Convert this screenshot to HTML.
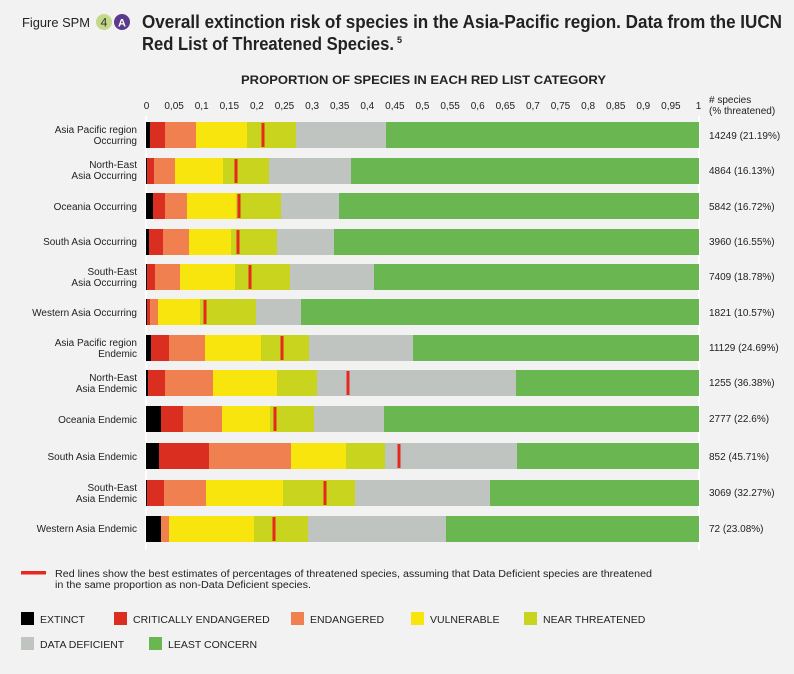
<!DOCTYPE html>
<html><head><meta charset="utf-8"><style>
body{margin:0;background:#f2f2f2;}
svg{display:block;font-family:"Liberation Sans",sans-serif;}
</style></head><body>
<svg width="794" height="674" viewBox="0 0 794 674" xmlns="http://www.w3.org/2000/svg">
<rect width="794" height="674" fill="#f2f2f2"/>
<text x="22" y="27" font-size="13" fill="#222" textLength="68" lengthAdjust="spacingAndGlyphs">Figure SPM</text>
<circle cx="104" cy="22" r="8" fill="#c5d98a"/><text x="104" y="26.5" font-size="12" text-anchor="middle" fill="#333">4</text>
<circle cx="122" cy="22" r="8" fill="#5b3a8c"/><text x="122" y="26.5" font-size="11" text-anchor="middle" fill="#fff" font-weight="bold">A</text>
<text x="142" y="28" font-size="18" font-weight="bold" fill="#222" textLength="640" lengthAdjust="spacingAndGlyphs">Overall extinction risk of species in the Asia-Pacific region. Data from the IUCN</text>
<text x="142" y="50" font-size="18" font-weight="bold" fill="#222" textLength="252" lengthAdjust="spacingAndGlyphs">Red List of Threatened Species.</text>
<text x="397" y="43" font-size="9" font-weight="bold" fill="#222">5</text>
<text x="241" y="84" font-size="12" font-weight="bold" fill="#222" textLength="365" lengthAdjust="spacingAndGlyphs">PROPORTION OF SPECIES IN EACH RED LIST CATEGORY</text>
<g font-size="10" fill="#222" text-anchor="middle" id="ticks"></g>
<text x="709" y="103" font-size="10" fill="#222"># species</text>
<text x="709" y="114" font-size="10" fill="#222">(% threatened)</text>
<line x1="146" y1="116" x2="146" y2="550" stroke="#fff" stroke-width="2"/>
<line x1="699" y1="116" x2="699" y2="550" stroke="#fff" stroke-width="2"/>
<g id="bars"></g>
<g font-size="10" fill="#222" text-anchor="end">
<text x="137" y="133">Asia Pacific region</text><text x="137" y="144">Occurring</text>
<text x="137" y="168">North-East</text><text x="137" y="179">Asia Occurring</text>
<text x="137" y="210">Oceania Occurring</text>
<text x="137" y="245">South Asia Occurring</text>
<text x="137" y="275">South-East</text><text x="137" y="286">Asia Occurring</text>
<text x="137" y="316">Western Asia Occurring</text>
<text x="137" y="346">Asia Pacific region</text><text x="137" y="357">Endemic</text>
<text x="137" y="381">North-East</text><text x="137" y="392">Asia Endemic</text>
<text x="137" y="423">Oceania Endemic</text>
<text x="137" y="460">South Asia Endemic</text>
<text x="137" y="491">South-East</text><text x="137" y="502">Asia Endemic</text>
<text x="137" y="532">Western Asia Endemic</text>
</g>
<g font-size="10" fill="#222">
<text x="709" y="139">14249 (21.19%)</text>
<text x="709" y="174">4864 (16.13%)</text>
<text x="709" y="210">5842 (16.72%)</text>
<text x="709" y="245">3960 (16.55%)</text>
<text x="709" y="280">7409 (18.78%)</text>
<text x="709" y="316">1821 (10.57%)</text>
<text x="709" y="351">11129 (24.69%)</text>
<text x="709" y="386">1255 (36.38%)</text>
<text x="709" y="422">2777 (22.6%)</text>
<text x="709" y="460">852 (45.71%)</text>
<text x="709" y="496">3069 (32.27%)</text>
<text x="709" y="532">72 (23.08%)</text>
</g>
<rect x="21" y="571" width="25" height="3.5" fill="#e6281f"/>
<text x="55" y="577" font-size="10" fill="#222" textLength="597" lengthAdjust="spacingAndGlyphs">Red lines show the best estimates of percentages of threatened species, assuming that Data Deficient species are threatened</text>
<text x="55" y="588" font-size="10" fill="#222" textLength="256" lengthAdjust="spacingAndGlyphs">in the same proportion as non-Data Deficient species.</text>
<g font-size="10.5" fill="#222">
<rect x="21" y="612" width="13" height="13" fill="#000"/><text x="40" y="623">EXTINCT</text>
<rect x="114" y="612" width="13" height="13" fill="#d92e20"/><text x="133" y="623">CRITICALLY ENDANGERED</text>
<rect x="291" y="612" width="13" height="13" fill="#f0804f"/><text x="310" y="623">ENDANGERED</text>
<rect x="411" y="612" width="13" height="13" fill="#f9e50e"/><text x="430" y="623">VULNERABLE</text>
<rect x="524" y="612" width="13" height="13" fill="#c9d41e"/><text x="543" y="623">NEAR THREATENED</text>
<rect x="21" y="637" width="13" height="13" fill="#c0c4c1"/><text x="40" y="648">DATA DEFICIENT</text>
<rect x="149" y="637" width="13" height="13" fill="#6ab651"/><text x="168" y="648">LEAST CONCERN</text>
</g>
<script>
var ns="http://www.w3.org/2000/svg";
var tk=document.getElementById("ticks");
for(var i=0;i<=20;i++){var v=i/20;var t=document.createElementNS(ns,"text");t.setAttribute("x",146.5+v*552);t.setAttribute("y",109);
var s=i==0?"0":i==20?"1":String(+v.toFixed(2)).replace(".",",");t.textContent=s;tk.appendChild(t);}
var cols=["#000","#d92e20","#f0804f","#f9e50e","#c9d41e","#c0c4c1","#6ab651"];
var rows=[
[122,[146,150,165,196,247,296,386],263],
[158,[146,147,154,175,223,269,351],236],
[193,[146,153,165,187,236,281,339],239],
[229,[146,149,163,189,231,277,334],238],
[264,[146,147,155,180,235,290,374],250],
[299,[146,147,150,158,200,256,301],205],
[335,[146,151,169,205,261,309,413],282],
[370,[146,148,165,213,277,317,516],348],
[406,[146,161,183,222,270,314,384],275],
[443,[146,159,209,291,346,385,517],399],
[480,[146,147,164,206,283,355,490],325],
[516,[146,161,161,169,254,308,446],274]];
var g=document.getElementById("bars");
function r(x,y,w,h,c){var e=document.createElementNS(ns,"rect");e.setAttribute("x",x);e.setAttribute("y",y);e.setAttribute("width",w);e.setAttribute("height",h);e.setAttribute("fill",c);g.appendChild(e);}
rows.forEach(function(R){var y=R[0],b=R[1];
var prev=146;var ends=[b[1],b[2],b[3],b[4],b[5],b[6],699];
for(var k=0;k<7;k++){if(ends[k]>prev)r(prev,y,ends[k]-prev,26,cols[k]);prev=Math.max(prev,ends[k]);}
r(R[2]-1.5,y+1,3,24,"#e6281f");});
</script>
</svg>
</body></html>
